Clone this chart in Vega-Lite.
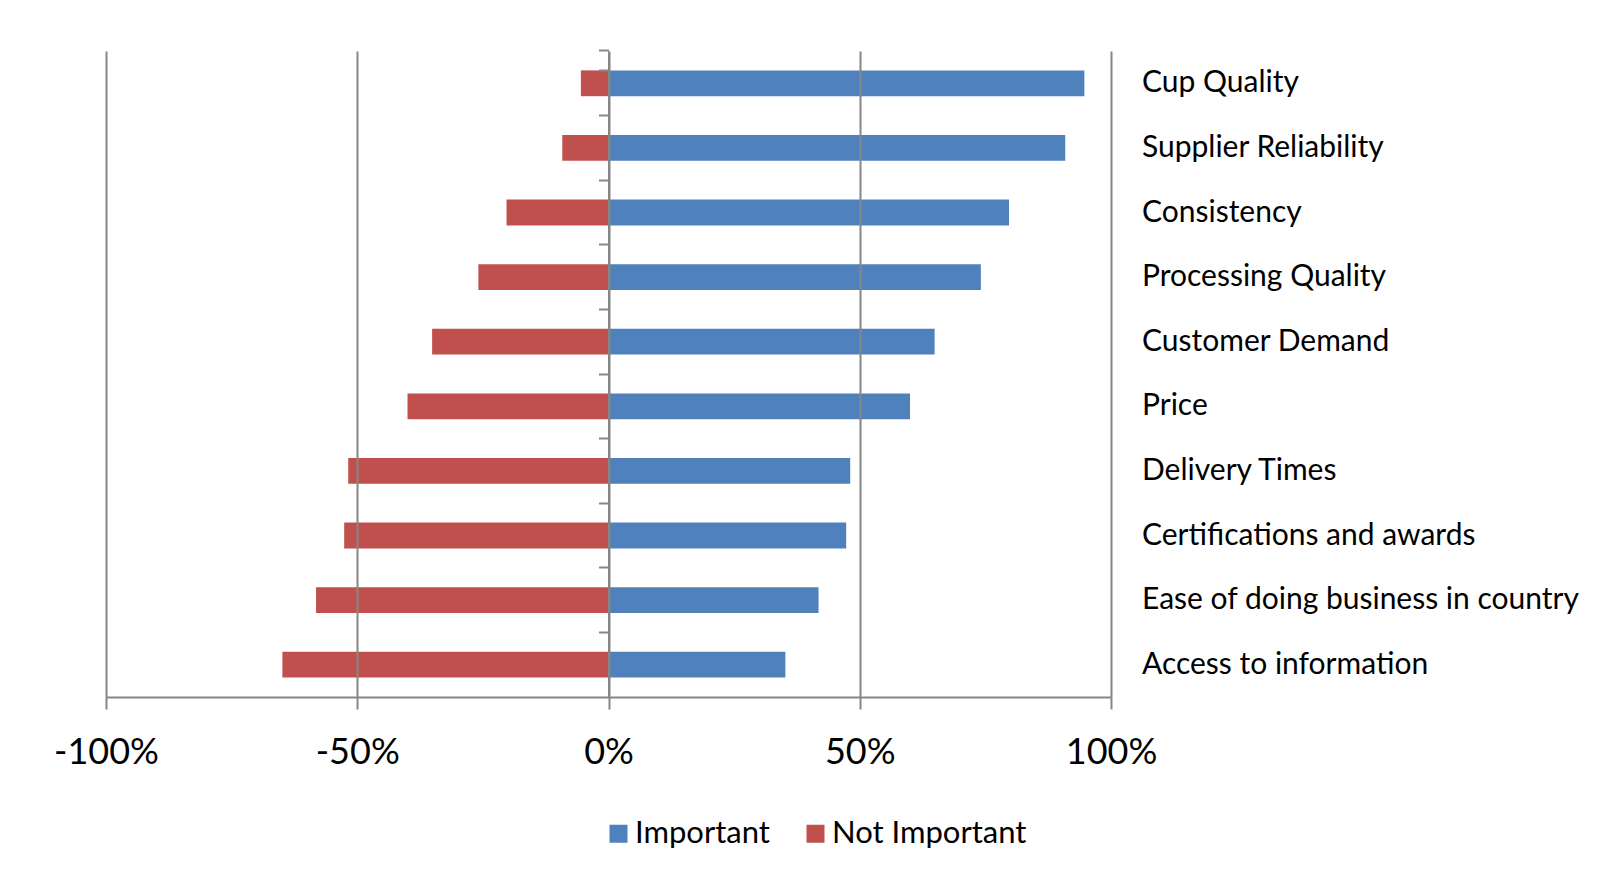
{
  "$schema": "https://vega.github.io/schema/vega-lite/v6.json",
  "autosize": {"type": "none"},
  "width": 1005,
  "height": 646,
  "padding": {"left": 106, "top": 51, "right": 494, "bottom": 186},
  "background": "white",
  "data": {
    "values": [
      {"factor": "Cup Quality", "type": "Important", "share": 0.947},
      {"factor": "Cup Quality", "type": "Not Important", "share": -0.055},
      {"factor": "Supplier Reliability", "type": "Important", "share": 0.909},
      {"factor": "Supplier Reliability", "type": "Not Important", "share": -0.092},
      {"factor": "Consistency", "type": "Important", "share": 0.797},
      {"factor": "Consistency", "type": "Not Important", "share": -0.203},
      {"factor": "Processing Quality", "type": "Important", "share": 0.741},
      {"factor": "Processing Quality", "type": "Not Important", "share": -0.259},
      {"factor": "Customer Demand", "type": "Important", "share": 0.649},
      {"factor": "Customer Demand", "type": "Not Important", "share": -0.351},
      {"factor": "Price", "type": "Important", "share": 0.60},
      {"factor": "Price", "type": "Not Important", "share": -0.40},
      {"factor": "Delivery Times", "type": "Important", "share": 0.481},
      {"factor": "Delivery Times", "type": "Not Important", "share": -0.518},
      {"factor": "Certifications and awards", "type": "Important", "share": 0.473},
      {"factor": "Certifications and awards", "type": "Not Important", "share": -0.526},
      {"factor": "Ease of doing business in country", "type": "Important", "share": 0.418},
      {"factor": "Ease of doing business in country", "type": "Not Important", "share": -0.582},
      {"factor": "Access to information", "type": "Important", "share": 0.352},
      {"factor": "Access to information", "type": "Not Important", "share": -0.649}
    ]
  },
  "mark": {"type": "bar"},
  "encoding": {
    "y": {
      "field": "factor",
      "type": "nominal",
      "sort": null,
      "scale": {"paddingInner": 0.6, "paddingOuter": 0.3},
      "axis": {
        "title": null,
        "orient": "left",
        "offset": -502.5,
        "zindex": 2,
        "domain": true,
        "domainColor": "#868686",
        "domainWidth": 2,
        "ticks": true,
        "tickColor": "#868686",
        "tickWidth": 2,
        "tickSize": 10,
        "bandPosition": -0.75,
        "tickExtra": true,
        "grid": false,
        "labelAlign": "left",
        "labelBaseline": "middle",
        "labelPadding": -543,
        "labelOffset": 0,
        "labelFont": "Lato",
        "labelFontSize": 30,
        "labelColor": "#000000",
        "labelLimit": 0
      }
    },
    "x": {
      "field": "share",
      "type": "quantitative",
      "stack": null,
      "scale": {"domain": [-1, 1], "nice": false, "zero": false},
      "axis": {
        "title": null,
        "values": [-1, -0.5, 0, 0.5, 1],
        "labelExpr": "(datum.value < 0 ? '-' : '') + format(abs(datum.value) * 100, 'd') + '%'",
        "zindex": 1,
        "grid": true,
        "gridColor": "#868686",
        "gridWidth": 2,
        "gridOpacity": 1,
        "domain": true,
        "domainColor": "#868686",
        "domainWidth": 2,
        "ticks": true,
        "tickColor": "#868686",
        "tickWidth": 2,
        "tickSize": 12,
        "labelPadding": 26,
        "labelFont": "Lato",
        "labelFontSize": 36,
        "labelColor": "#000000",
        "labelFlush": false,
        "labelOverlap": false
      }
    },
    "color": {
      "field": "type",
      "type": "nominal",
      "scale": {"domain": ["Important", "Not Important"], "range": ["#4F81BD", "#C0504D"]},
      "legend": {
        "title": null,
        "orient": "none",
        "direction": "horizontal",
        "legendX": 497,
        "legendY": 767,
        "symbolType": "square",
        "symbolSize": 324,
        "symbolStrokeWidth": 0,
        "symbolOpacity": 1,
        "labelOffset": 1,
        "columnPadding": 30,
        "labelFont": "Lato",
        "labelFontSize": 31,
        "labelColor": "#000000",
        "labelLimit": 0
      }
    }
  },
  "config": {
    "view": {"stroke": null}
  }
}
